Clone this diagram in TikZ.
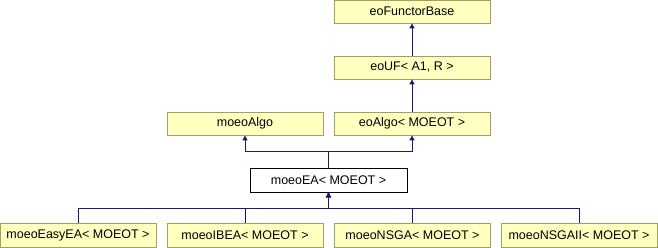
\documentclass[tikz,border=0pt]{standalone}
\usepackage{fontspec}
\setmainfont{Liberation Sans}
\usetikzlibrary{arrows.meta}
\definecolor{boxfill}{RGB}{255,255,192}
\definecolor{boxline}{RGB}{160,160,96}
\definecolor{edgecol}{RGB}{25,25,112}
\tikzset{
  cls/.style={draw=boxline, fill=boxfill, line width=0.9pt, minimum width=156pt, minimum height=23pt, inner sep=0pt, font=\fontsize{12.5}{14}\selectfont},
  cur/.style={cls, draw=black, fill=white},
  edge/.style={draw=edgecol, line width=1pt, -{Triangle[length=5pt,width=5pt]}}
}
\begin{document}
\begin{tikzpicture}[x=1pt,y=-1pt]
\useasboundingbox (0,0) rectangle (658,248);
\node[cls] (base) at (412,11.5) {eoFunctorBase};
\node[cls] (uf) at (412,67.5) {eoUF< A1, R >};
\node[cls] (malgo) at (245,123.5) {moeoAlgo};
\node[cls] (ealgo) at (412,123.5) {eoAlgo< MOEOT >};
\node[cur, minimum width=157pt, minimum height=24pt] (ea) at (328.5,180) {moeoEA< MOEOT >};
\node[cls, minimum height=24pt] (easy) at (78,235) {moeoEasyEA< MOEOT >};
\node[cls, minimum height=24pt] (ibea) at (245,235) {moeoIBEA< MOEOT >};
\node[cls, minimum height=24pt] (nsga) at (412.5,235) {moeoNSGA< MOEOT >};
\node[cls, minimum height=24pt] (nsgaii) at (579,235) {moeoNSGAII< MOEOT >};
\coordinate (jt) at (328.5,152);
\coordinate (jb) at (328.5,208);
\draw[edge] (uf.north) -- (base.south);
\draw[edge] (ealgo.north) -- (uf.south);
\draw[edge] (ea.north) -- (jt) -| (malgo.south);
\draw[edge] (ea.north) -- (jt) -| (ealgo.south);
\draw[edge] (easy.north) |- (jb) -- (ea.south);
\draw[edge] (ibea.north) |- (jb) -- (ea.south);
\draw[edge] (nsga.north) |- (jb) -- (ea.south);
\draw[edge] (nsgaii.north) |- (jb) -- (ea.south);
\end{tikzpicture}
\end{document}
